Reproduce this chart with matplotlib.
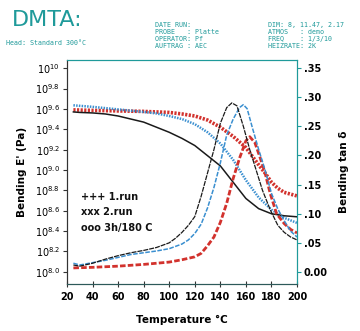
import matplotlib
matplotlib.use("Agg")
import matplotlib.pyplot as plt
import numpy as np

# ---- data ----
T_E1 = [25, 30, 40, 50, 60, 70, 80, 90, 100, 110, 120, 130, 140, 150, 160, 170, 180, 190, 200]
E1 = [9.57, 9.565, 9.56, 9.55, 9.53, 9.50, 9.47, 9.42, 9.37, 9.31, 9.24, 9.14, 9.04, 8.88, 8.72, 8.62, 8.57, 8.55, 8.54]

T_E2 = [25, 40, 60, 80, 90, 100, 110, 120, 130, 140, 150, 160, 170, 180, 190, 200]
E2 = [9.635, 9.62, 9.595, 9.57, 9.555, 9.53, 9.50, 9.45, 9.37, 9.26, 9.10, 8.90, 8.73, 8.61, 8.53, 8.48]

T_E3 = [25, 40, 60, 80, 90, 100, 110, 120, 130, 140, 150, 160, 170, 175, 180, 185, 190, 200]
E3 = [9.59, 9.585, 9.58, 9.575, 9.57, 9.565, 9.55, 9.53, 9.49, 9.42, 9.33, 9.22, 9.05, 8.97, 8.88, 8.82, 8.78, 8.745]

T_t1 = [25, 30, 40, 50, 60, 70, 80, 90, 100, 105, 110, 115, 120, 125, 130, 135, 140, 145, 149, 153, 158, 163, 168, 173, 179, 185, 190, 195, 200]
tan1 = [0.012, 0.010, 0.015, 0.022, 0.028, 0.033, 0.037, 0.042, 0.050, 0.058, 0.068, 0.080, 0.095, 0.130, 0.170, 0.210, 0.255, 0.282, 0.290, 0.285, 0.250, 0.210, 0.175, 0.140, 0.107, 0.080, 0.068, 0.060, 0.055]

T_t2 = [25, 30, 40, 50, 60, 70, 80, 90, 100, 110, 115, 120, 125, 130, 135, 140, 145, 150, 155, 158, 161, 165, 170, 175, 180, 185, 190, 195, 200]
tan2 = [0.015, 0.012, 0.016, 0.020, 0.025, 0.030, 0.033, 0.036, 0.040, 0.048, 0.055, 0.066, 0.082, 0.110, 0.145, 0.187, 0.235, 0.262, 0.282, 0.287, 0.280, 0.248, 0.210, 0.175, 0.135, 0.108, 0.088, 0.070, 0.060]

T_t3 = [25, 40, 60, 80, 100, 110, 120, 125, 130, 135, 140, 145, 150, 155, 160, 163, 167, 171, 175, 179, 184, 190, 195, 200]
tan3 = [0.007, 0.008, 0.010, 0.013, 0.017, 0.021, 0.026, 0.032, 0.045, 0.060, 0.085, 0.118, 0.160, 0.195, 0.225, 0.232, 0.222, 0.197, 0.170, 0.135, 0.100, 0.083, 0.073, 0.067]

xticks = [20, 40, 60, 80, 100, 120, 140, 160, 180, 200]
left_ticks = [8.0, 8.2, 8.4, 8.6, 8.8, 9.0, 9.2, 9.4, 9.6, 9.8, 10.0]
left_labels = [r"$10^{8.0}$", r"$10^{8.2}$", r"$10^{8.4}$", r"$10^{8.6}$", r"$10^{8.8}$",
               r"$10^{9.0}$", r"$10^{9.2}$", r"$10^{9.4}$", r"$10^{9.6}$", r"$10^{9.8}$", r"$10^{10}$"]
right_ticks = [0.0, 0.05, 0.10, 0.15, 0.20, 0.25, 0.30, 0.35]
right_labels = ["0.00", ".05", ".10", ".15", ".20", ".25", ".30", ".35"]
legend_lines = ["+++ 1.run", "xxx 2.run", "ooo 3h/180 C"]

teal = "#1f9a9a"
black = "#1a1a1a"
blue = "#3a8fd0"
red = "#d2322d"

plt.rcParams['font.family'] = ['DejaVu Sans']
plt.rcParams['mathtext.fontset'] = 'dejavusans'
fig = plt.figure(figsize=(3.6, 3.31), dpi=100)
ax = fig.add_axes([67/360, 1-284/331, 230/360, 224/331])
ax2 = ax.twinx()

# storage modulus (log10 on linear axis with 10^x labels)
ax.plot(T_E3, E3, color=red, lw=2.6, ls=(0, (0.6, 0.4)), zorder=3)
ax.plot(T_E2, E2, color=blue, lw=1.8, ls=(0, (0.6, 0.5)), zorder=4)
ax.plot(T_E1, E1, color=black, lw=1.1, zorder=5)

# tan delta
ax2.plot(T_t3, tan3, color=red, lw=2.0, ls=(0, (2.0, 0.8)))
ax2.plot(T_t2, tan2, color=blue, lw=1.1, ls=(0, (3.0, 1.0)))
ax2.plot(T_t1, tan1, color=black, lw=0.9, ls=(0, (4.0, 0.8)))

ax.set_xlim(20, 200)
ax.set_ylim(7.88, 10.08)
ax2.set_ylim(-0.0206, 0.3636)

ax.set_xticks(xticks)
ax.set_xticklabels([str(v) for v in xticks], fontsize=7, fontweight='bold')
ax.set_yticks(left_ticks)
ax.set_yticklabels(left_labels, fontsize=7)
ax2.set_yticks(right_ticks)
ax2.set_yticklabels(right_labels, fontsize=7, fontweight='bold')

ax.tick_params(axis='x', direction='inout', length=4, width=0.8, color='#333333', pad=4)
ax.tick_params(axis='y', direction='out', length=3, width=0.8, color='#333333', pad=2)
ax2.tick_params(axis='y', direction='out', length=3, width=0.8, color=teal, pad=2)

for a in (ax, ax2):
    a.spines['top'].set_color(teal)
    a.spines['right'].set_color(teal)
    a.spines['left'].set_color('#333333')
    a.spines['bottom'].set_color('#2d5a5a')
    for s in a.spines.values():
        s.set_linewidth(0.8)

ax.set_xlabel("Temperature °C", fontsize=7.5, fontweight='bold', labelpad=9)
ax.set_ylabel("Bending E' (Pa)", fontsize=7.5, fontweight='bold', labelpad=6)
ax2.set_ylabel("Bending tan δ", fontsize=7.5, fontweight='bold', labelpad=8)

for i, s in enumerate(legend_lines):
    ax.text(0.06, 0.39 - i*0.07, s, transform=ax.transAxes, fontsize=7,
            fontweight='bold', color='#111111', va='center')

# header
fig.text(12/360, 1-20/331, "DMTA:", fontsize=16, color=teal, va='center')
mono = dict(family='DejaVu Sans Mono', fontsize=4.8, color=teal, va='center')
fig.text(6/360, 1-43/331, "Head: Standard 300°C", **mono)
mid = ["DATE RUN:", "PROBE   : Platte", "OPERATOR: Pf", "AUFTRAG : AEC"]
rgt = ["DIM: 8, 11.47, 2.17", "ATMOS   : demo", "FREQ    : 1/3/10", "HEIZRATE: 2K"]
for i, s in enumerate(mid):
    fig.text(155/360, 1-(25+7*i)/331, s, **mono)
for i, s in enumerate(rgt):
    fig.text(268/360, 1-(25+7*i)/331, s, **mono)

fig.savefig("out.png", dpi=100)
